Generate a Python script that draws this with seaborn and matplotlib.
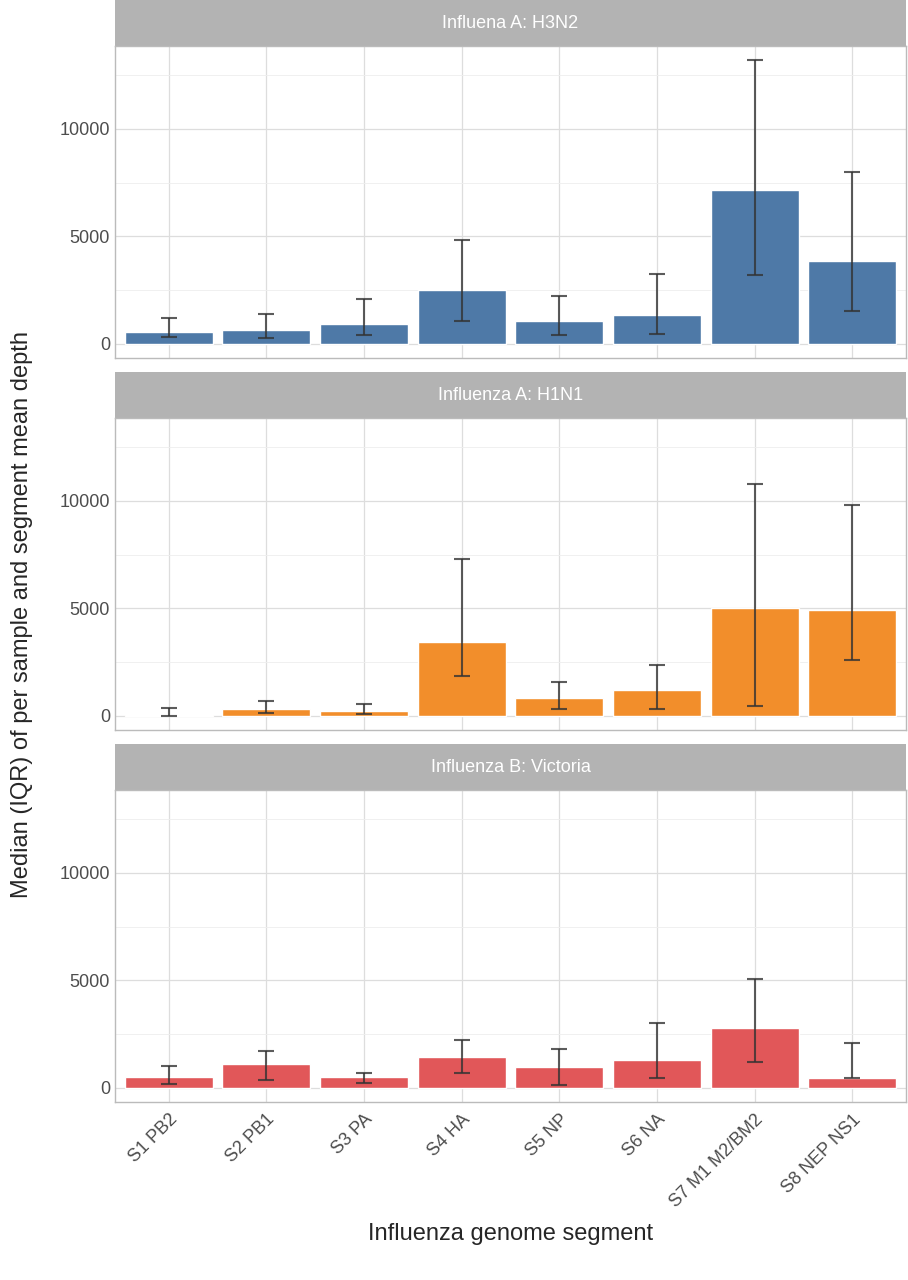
import matplotlib
matplotlib.use("Agg")
import matplotlib.pyplot as plt
import seaborn as sns
import pandas as pd
import numpy as np

segments = ["S1 PB2", "S2 PB1", "S3 PA", "S4 HA", "S5 NP", "S6 NA", "S7 M1 M2/BM2", "S8 NEP NS1"]
panels = ["Influena A: H3N2", "Influenza A: H1N1", "Influenza B: Victoria"]
colors = ["#4E79A7", "#F28E2B", "#E15759"]

h3n2_med = [560, 650, 920, 2500, 1050, 1350, 7150, 3850]
h3n2_lo = [300, 250, 400, 1050, 420, 450, 3200, 1520]
h3n2_hi = [1180, 1400, 2100, 4850, 2230, 3270, 13200, 8000]

h1n1_med = [50, 300, 230, 3450, 820, 1180, 5000, 4920]
h1n1_lo = [0, 130, 100, 1850, 330, 300, 450, 2600]
h1n1_hi = [350, 700, 530, 7300, 1570, 2380, 10800, 9830]

vic_med = [500, 1100, 520, 1420, 960, 1280, 2780, 440]
vic_lo = [200, 380, 230, 680, 120, 450, 1200, 450]
vic_hi = [1000, 1720, 700, 2230, 1800, 3000, 5050, 2080]

meds = [h3n2_med, h1n1_med, vic_med]
los = [h3n2_lo, h1n1_lo, vic_lo]
his = [h3n2_hi, h1n1_hi, vic_hi]

sns.set_theme(style="whitegrid")
plt.rcParams['font.family'] = ['Liberation Sans', 'DejaVu Sans']

W, H = 908, 1280
fig = plt.figure(figsize=(W / 100, H / 100), dpi=100)
x0, x1 = 115, 906
tops = [0, 372, 744]
strip_h = 46
plot_h = 312

for i in range(3):
    t = tops[i]
    sax = fig.add_axes([x0 / W, 1 - (t + strip_h) / H, (x1 - x0) / W, strip_h / H])
    sax.set_facecolor("#B3B3B3")
    sax.set_xticks([]); sax.set_yticks([])
    for s in sax.spines.values():
        s.set_visible(False)
    sax.text(0.5, 0.5, panels[i], color="white", fontsize=13, ha="center", va="center",
             transform=sax.transAxes)

    ax = fig.add_axes([x0 / W, 1 - (t + strip_h + plot_h) / H, (x1 - x0) / W, plot_h / H])
    df = pd.DataFrame({"segment": segments, "median": meds[i]})
    sns.barplot(data=df, x="segment", y="median", color=colors[i], saturation=1,
                width=0.9, ax=ax, errorbar=None)
    pos = np.arange(len(segments))
    med = np.array(meds[i]); lo = np.array(los[i]); hi = np.array(his[i])
    ax.errorbar(pos, med, yerr=[np.clip(med - lo, 0, None), np.clip(hi - med, 0, None)],
                fmt="none", ecolor="#333333", alpha=0.8, elinewidth=1.5, capsize=6, capthick=1.5)
    ax.set_ylim(-660, 13860)
    ax.set_xlim(-0.55, 7.55)
    ax.set_yticks([0, 5000, 10000])
    ax.set_yticks([2500, 7500, 12500], minor=True)
    ax.grid(True, which="major", color="#DDDDDD", lw=0.9)
    ax.grid(True, which="minor", axis="y", color="#EEEEEE", lw=0.6)
    ax.set_axisbelow(True)
    for s in ax.spines.values():
        s.set_color("#BBBBBB"); s.set_linewidth(1)
    ax.tick_params(axis="y", labelsize=13, labelcolor="#4D4D4D", length=0)
    ax.set_ylabel(""); ax.set_xlabel("")
    if i < 2:
        ax.set_xticklabels([])
        ax.tick_params(axis="x", length=0)
    else:
        ax.set_xticks(pos)
        ax.set_xticklabels(segments, rotation=45, ha="right", rotation_mode="anchor",
                           fontsize=13, color="#4D4D4D")
        ax.tick_params(axis="x", length=3, color="#BBBBBB")

fig.text(22 / W, 0.5 + 0.02, "Median (IQR) of per sample and segment mean depth", rotation=90,
         fontsize=17, ha="center", va="center")
fig.text((x0 + x1) / 2 / W, 1 - 1234 / H, "Influenza genome segment", fontsize=17,
         ha="center", va="center")
fig.savefig("out.png", dpi=100)
